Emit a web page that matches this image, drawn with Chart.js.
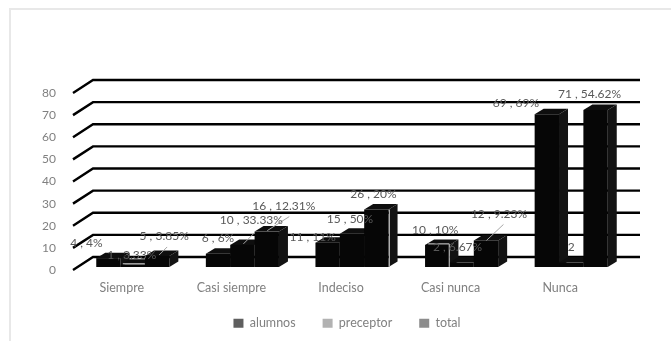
<!DOCTYPE html>
<html>
<head>
<meta charset="utf-8">
<script src="https://cdn.jsdelivr.net/npm/chart.js@4"></script>
<style>
  html, body { margin: 0; padding: 0; background: #fff; overflow: hidden; }
  #frame { position: absolute; left: 9px; top: 8px; width: 660px; height: 331px;
           border-left: 2px solid #e8e8e8; border-top: 2px solid #e8e8e8; }
  canvas { position: absolute; left: 0; top: 0; }
</style>
</head>
<body>
<div id="frame"></div>
<canvas id="chart" width="671" height="341"></canvas>
<script>
/* 3D-look clustered columns: depth faces, floor lines and callouts are
 * painted by a small plugin on top of the normal bar chart. */
const categories = ['Siempre', 'Casi siempre', 'Indeciso', 'Casi nunca', 'Nunca'];
const seriesNames = ['alumnos', 'preceptor', 'total'];
const alumnos = [4, 6, 11, 10, 69];
const preceptor = [1, 10, 15, 2, 2];
const total = [5, 16, 26, 12, 71];
const alumnosLabels = ['4 , 4%', '6 , 6%', '11 , 11%', '10 , 10%', '69 , 69%'];
const preceptorLabels = ['1 , 3.33%', '10 , 33.33%', '15 , 50%', '2 , 6.67%', '2'];
const totalLabels = ['5 , 3.85%', '16 , 12.31%', '26 , 20%', '12 , 9.23%', '71 , 54.62%'];
const yTicks = [0, 10, 20, 30, 40, 50, 60, 70, 80];

const BAR = '#060606';
const SIDE = '#131313';
const TOP = '#0e0e0e';
const TEXT = '#595959';
const AXIS_TEXT = '#808080';
const LEGEND_COLORS = ['#5f5f5f', '#b2b2b2', '#8c8c8c'];
const DEPTH = { x: 9, y: 5.5 };
const FLOOR = { x: 20, back: -10, front: 3, left: 73, right: 640 };

// callout placement relative to the top centre of each bar [dx, dy]
const labelOffsets = [
  [[-22, -15], [0, -16], [-15, -6], [-2, -15], [-31, -11]],
  [[-1, -10], [9, -25], [-2, -15], [-4, -15.5], [0, -15.5]],
  [[7, -20], [17, -25], [-3, -15], [13, -26], [-6, -16]],
];
// leader lines, same origin: [series, category, x1, y1, x2, y2, colour]
const leaders = [
  [1, 0, -10, -1, 12, -1, '#d9d9d9'],
  [2, 0, 2, -1, 10, -9, '#a6a6a6'],
  [1, 1, 1, -1, 12, -12, '#a6a6a6'],
  [2, 1, 0.5, -1, 22.5, -15, '#a6a6a6'],
  [2, 2, 13, 0, 13, 57, '#c8c8c8'],
  [0, 3, -9, -1, 12, -1, '#d9d9d9'],
  [0, 3, 12, -1, 12, 22, '#c8c8c8'],
  [2, 3, 0.5, 0, 17.5, -16, '#a6a6a6'],
];

const depthPlugin = {
  id: 'depthPlugin',
  afterLayout(chart) {
    // legend sits closer to the axis than its wide item padding would allow
    const legend = chart.legend;
    legend.top = chart.scales.x.top + 23;
    legend.left -= 5;
    legend.right -= 5;
  },
  beforeDatasetsDraw(chart) {
    const ctx = chart.ctx;
    const y = chart.scales.y;
    ctx.save();
    // floor and wall lines
    ctx.strokeStyle = '#000';
    ctx.lineWidth = 2.4;
    yTicks.forEach(v => {
      const py = y.getPixelForValue(v);
      ctx.beginPath();
      ctx.moveTo(FLOOR.left, py + FLOOR.front);
      ctx.lineTo(FLOOR.left + FLOOR.x, py + FLOOR.back);
      ctx.lineTo(FLOOR.right, py + FLOOR.back);
      ctx.stroke();
    });
    // side and top faces, left to right so later bars cover earlier ones
    chart.data.labels.forEach((_, i) => {
      chart.data.datasets.forEach((ds, d) => {
        const bar = chart.getDatasetMeta(d).data[i];
        const l = bar.x - bar.width / 2;
        const r = bar.x + bar.width / 2;
        ctx.fillStyle = SIDE;
        ctx.beginPath();
        ctx.moveTo(r, bar.y);
        ctx.lineTo(r + DEPTH.x, bar.y - DEPTH.y);
        ctx.lineTo(r + DEPTH.x, bar.base - DEPTH.y);
        ctx.lineTo(r, bar.base);
        ctx.closePath();
        ctx.fill();
        ctx.fillStyle = TOP;
        ctx.beginPath();
        ctx.moveTo(l, bar.y);
        ctx.lineTo(l + DEPTH.x, bar.y - DEPTH.y);
        ctx.lineTo(r + DEPTH.x, bar.y - DEPTH.y);
        ctx.lineTo(r, bar.y);
        ctx.closePath();
        ctx.fill();
      });
    });
    ctx.restore();
  },
  afterDatasetsDraw(chart) {
    const ctx = chart.ctx;
    ctx.save();
    ctx.lineWidth = 1;
    leaders.forEach(([d, i, x1, y1, x2, y2, color]) => {
      const bar = chart.getDatasetMeta(d).data[i];
      ctx.strokeStyle = color;
      ctx.beginPath();
      ctx.moveTo(bar.x + x1, bar.y + y1);
      ctx.lineTo(bar.x + x2, bar.y + y2);
      ctx.stroke();
    });
    ctx.fillStyle = TEXT;
    ctx.font = '12px Lato';
    ctx.textAlign = 'center';
    ctx.textBaseline = 'middle';
    chart.data.datasets.forEach((ds, d) => {
      chart.getDatasetMeta(d).data.forEach((bar, i) => {
        const [dx, dy] = labelOffsets[d][i];
        ctx.fillText(ds.callouts[i], bar.x + dx, bar.y + dy);
      });
    });
    ctx.restore();
  }
};

const makeSet = (label, data, callouts) => ({
  label, data, callouts,
  backgroundColor: BAR,
  barPercentage: 1,
  categoryPercentage: 0.667,
});

new Chart(document.getElementById('chart'), {
  type: 'bar',
  data: {
    labels: categories,
    datasets: [
      makeSet(seriesNames[0], alumnos, alumnosLabels),
      makeSet(seriesNames[1], preceptor, preceptorLabels),
      makeSet(seriesNames[2], total, totalLabels),
    ],
  },
  options: {
    responsive: false,
    animation: false,
    layout: { padding: { left: 38, right: 45, top: 90, bottom: 3 } },
    plugins: {
      tooltip: { enabled: false },
      legend: {
        position: 'bottom',
        fullSize: false,
        maxHeight: 20,
        labels: {
          boxWidth: 10,
          boxHeight: 9,
          padding: 27,
          color: AXIS_TEXT,
          font: { family: 'Lato', size: 12.5 },
          generateLabels: chart => chart.data.datasets.map((ds, i) => ({
            text: ds.label,
            fillStyle: LEGEND_COLORS[i],
            strokeStyle: LEGEND_COLORS[i],
            lineWidth: 0,
            fontColor: AXIS_TEXT,
            datasetIndex: i,
          })),
        },
      },
    },
    scales: {
      x: {
        grid: { display: false, drawTicks: false },
        border: { display: false },
        afterFit: s => { s.height = 51; },
        ticks: {
          color: AXIS_TEXT,
          font: { family: 'Lato', size: 12.5 },
          padding: 13,
          labelOffset: -11,
          maxRotation: 0,
          autoSkip: false,
        },
      },
      y: {
        min: 0,
        max: 80,
        afterFit: s => { s.width = 40; },
        grid: { display: false, drawTicks: false },
        border: { display: false },
        ticks: {
          stepSize: 10,
          color: AXIS_TEXT,
          font: { family: 'Lato', size: 12 },
          padding: 22,
          labelOffset: 3,
        },
      },
    },
  },
  plugins: [depthPlugin],
});
</script>
</body>
</html>
